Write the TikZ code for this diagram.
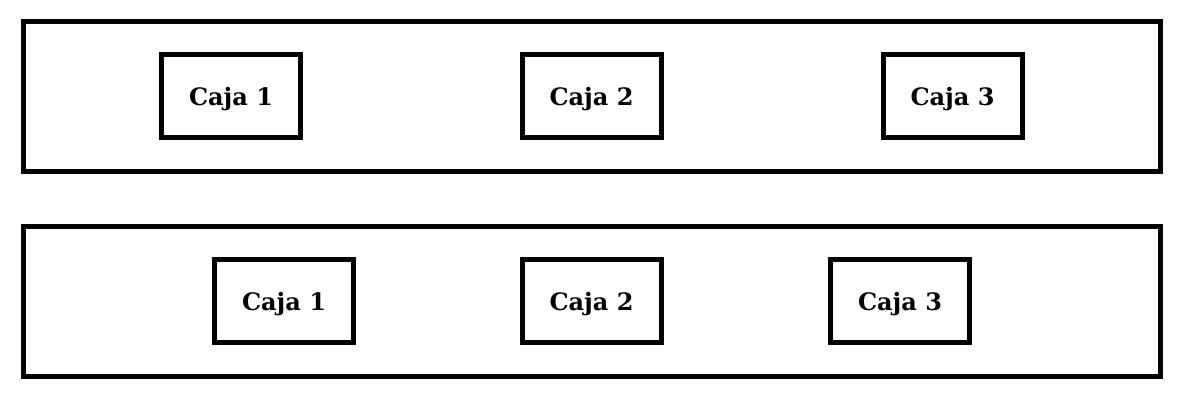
\documentclass[tikz,border=0pt]{standalone}
\usepackage{fontspec}
\setmainfont{DejaVu Serif}
\begin{document}
\begin{tikzpicture}[x=0.75pt,y=-0.75pt,
  panel/.style={draw=black,line width=3.75pt},
  caja/.style={draw=black,line width=3.75pt,minimum width=104.25pt,minimum height=62.25pt,inner sep=0pt,text height=14.1pt,text depth=0pt,font=\fontsize{18}{21}\selectfont\bfseries}]
\useasboundingbox (0,0) rectangle (1191,411);
\draw[panel] (23.5,21.8) rectangle (1160.5,171.5);
\draw[panel] (23.5,226.5) rectangle (1160.5,376.5);
\node[caja] (t1) at (231,96.3) {Caja 1};
\node[caja] (t2) at (591.5,96.3) {Caja 2};
\node[caja] (t3) at (952.5,96.3) {Caja 3};
\node[caja] (b1) at (284,301) {Caja 1};
\node[caja] (b2) at (591.5,301) {Caja 2};
\node[caja] (b3) at (900,301) {Caja 3};
\end{tikzpicture}
\end{document}
